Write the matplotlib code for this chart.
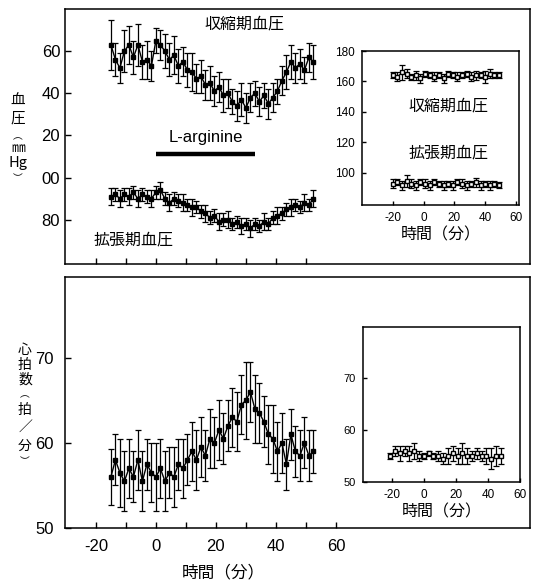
import matplotlib
matplotlib.use("Agg")
import matplotlib.pyplot as plt

plt.rcParams['font.family'] = ['Liberation Sans', 'Noto Sans CJK JP', 'DejaVu Sans']
JP = ['Noto Sans CJK JP', 'DejaVu Sans']

# ---------------- data ----------------
time_main = [-15, -13.5, -12, -10.5, -9, -7.5, -6, -4.5, -3, -1.5, 0, 1.5, 3, 4.5, 6, 7.5,
             9, 10.5, 12, 13.5, 15, 16.5, 18, 19.5, 21, 22.5, 24, 25.5, 27, 28.5, 30, 31.5,
             33, 34.5, 36, 37.5, 39, 40.5, 42, 43.5, 45, 46.5, 48, 49.5, 51, 52.5]
sys_bp = [163, 156, 152, 160, 163, 157, 163, 155, 156, 153, 165, 163, 160, 156, 158, 153,
          155, 151, 150, 147, 148, 144, 145, 141, 143, 139, 140, 136, 134, 137, 133, 138,
          140, 136, 139, 135, 138, 141, 146, 150, 155, 152, 154, 151, 157, 155]
sys_err = [12, 8, 7, 10, 9, 8, 10, 8, 9, 7, 6, 7, 8, 8, 9, 8, 7, 8, 9, 7, 8, 7, 8, 7,
           7, 8, 7, 6, 7, 8, 7, 7, 6, 7, 6, 7, 7, 6, 7, 8, 8, 7, 7, 6, 7, 8]
dia_bp = [91, 92, 90, 92, 91, 93, 90, 92, 91, 90, 93, 94, 90, 88, 90, 89, 88, 87, 86, 86,
          84, 83, 81, 82, 79, 80, 80, 78, 79, 77, 78, 76, 78, 77, 79, 78, 81, 82, 83, 85,
          86, 87, 86, 88, 87, 90]
dia_err = [4, 3, 4, 3, 4, 3, 4, 3, 3, 4, 3, 4, 3, 4, 3, 3, 4, 3, 4, 3, 3, 4, 3, 3, 4, 3,
           4, 3, 3, 4, 3, 4, 3, 3, 4, 3, 3, 4, 3, 3, 4, 3, 3, 4, 3, 4]
hr = [56, 58, 56.5, 55.5, 57, 56, 58, 55.5, 57.5, 56.5, 56, 57, 55.5, 56.5, 56, 57.5, 57,
      58, 59, 58, 59.5, 58.5, 60.5, 60, 61.5, 60.5, 62, 63, 62.5, 64.5, 65, 66, 64, 63.5,
      62.5, 61, 60.5, 59, 60, 57.5, 61, 59, 58.5, 60, 58.5, 59]
hr_err = [3.3, 3, 4, 3.5, 3.5, 3, 3.5, 3.5, 3, 3.5, 4, 3.5, 3.5, 3, 3.5, 3, 3.5, 3, 3.5,
          3.5, 3.5, 3, 3.5, 3, 3.5, 3, 3, 3.5, 3.5, 3.5, 4.5, 3.5, 4, 3.5, 3, 3.5, 4,
          3.5, 3.5, 3, 3, 3, 3, 3, 3, 2.5]

time_inset = [-20, -17, -14, -11, -8, -5, -2, 1, 4, 7, 10, 13, 16, 19, 22, 25, 28, 31, 34,
              37, 40, 43, 46, 49]
sys_ctrl = [164, 163, 166, 165, 163, 164, 162, 165, 164, 163, 164, 162, 165, 164, 163,
            164, 165, 163, 164, 164, 163, 165, 164, 164]
sys_ctrl_err = [2, 3, 5, 3, 2, 3, 3, 2, 2, 3, 2, 3, 2, 2, 3, 2, 2, 3, 3, 2, 4, 3, 2, 2]
dia_ctrl = [93, 94, 92, 95, 93, 92, 94, 93, 92, 94, 93, 92, 93, 92, 94, 93, 92, 93, 94,
            92, 93, 92, 93, 92]
dia_ctrl_err = [3, 2, 3, 4, 3, 3, 2, 3, 3, 2, 2, 3, 2, 3, 2, 3, 3, 2, 3, 3, 2, 3, 2, 2]

time_hr_inset = [-21, -18, -15, -12, -9, -6, -3, 0, 3, 6, 9, 12, 15, 18, 21, 24, 27, 30,
                 33, 36, 39, 42, 45, 48]
hr_ctrl = [55, 56, 55.5, 56, 55.5, 56, 55, 55, 55.5, 55, 55, 54.5, 55, 55.5, 55, 55.5,
           55, 55, 55.5, 55, 55, 54.5, 55, 55]
hr_ctrl_err = [0.5, 1, 1.5, 1, 1.5, 1.5, 1, 0.5, 0.5, 0.5, 1, 1, 1.5, 1.5, 1.5, 2, 1.5,
               1, 1, 1, 1.5, 2, 2, 1.5]

bp_ticks = [80, 100, 120, 140, 160]
bp_ticklabels = ["80", "00", "20", "40", "60"]
inset_bp_ticks = [100, 120, 140, 160, 180]
inset_bp_ticklabels = ["100", "120", "140", "160", "180"]
hr_ticks = [50, 60, 70]
time_ticks_labels = [-20, 0, 20, 40, 60]
arginine_period = [0, 33]

W, H = 534, 585
fig = plt.figure(figsize=(W / 100, H / 100), dpi=100)


def rect(l, t, r, b):
    return [l / W, (H - b) / H, (r - l) / W, (b - t) / H]


def eb(ax, x, y, e, ms=3, lw=1.0, cap=2.2, mfc='black'):
    ax.errorbar(x, y, yerr=e, fmt='-s', color='black', ms=ms, mfc=mfc, mec='black',
                lw=lw, elinewidth=0.9, capsize=cap, capthick=0.9)


# ---------------- top main panel ----------------
ax1 = fig.add_axes(rect(65, 9, 530, 264))
eb(ax1, time_main, sys_bp, sys_err)
eb(ax1, time_main, dia_bp, dia_err)
ax1.plot(arginine_period, [111, 111], color='black', lw=3.2, solid_capstyle='butt')
ax1.set_xlim(-30.3, 124.7)
ax1.set_ylim(59, 180)
ax1.set_yticks(bp_ticks)
ax1.set_yticklabels(bp_ticklabels, fontsize=12)
ax1.set_xticks(list(range(-20, 51, 10)))
ax1.set_xticklabels([])
ax1.tick_params(direction='in', length=4, width=1)
ax1.text(16.5, 111 + 4.5, "L-arginine", fontsize=12, ha='center', va='bottom')
ax1.text(29.5, 173, "収縮期血圧", family=JP, fontsize=11.5, ha='center', va='center')
ax1.text(-7.5, 70.5, "拡張期血圧", family=JP, fontsize=11.5, ha='center', va='center')

# ---------------- top inset ----------------
ax2 = fig.add_axes(rect(362, 51, 519, 205))
eb(ax2, time_inset, sys_ctrl, sys_ctrl_err, ms=2.5, lw=0.8, cap=2, mfc='white')
eb(ax2, time_inset, dia_ctrl, dia_ctrl_err, ms=2.5, lw=0.8, cap=2, mfc='white')
ax2.set_xlim(-40, 62)
ax2.set_ylim(79, 180)
ax2.set_yticks(inset_bp_ticks)
ax2.set_yticklabels(inset_bp_ticklabels, fontsize=8.5)
ax2.set_xticks(time_ticks_labels)
ax2.set_xticklabels([str(v) for v in time_ticks_labels], fontsize=8.5)
ax2.tick_params(direction='in', length=3, width=1, pad=5)
ax2.set_xlabel("時間（分）", family=JP, fontsize=11.5, labelpad=2)
ax2.text(0.55, 0.645, "収縮期血圧", transform=ax2.transAxes, family=JP, fontsize=11.5,
         ha='center', va='center')
ax2.text(0.55, 0.34, "拡張期血圧", transform=ax2.transAxes, family=JP, fontsize=11.5,
         ha='center', va='center')

# ---------------- bottom main panel ----------------
ax3 = fig.add_axes(rect(65, 277, 530, 528))
eb(ax3, time_main, hr, hr_err)
ax3.set_xlim(-30.3, 124.7)
ax3.set_ylim(50, 79.5)
ax3.set_yticks(hr_ticks)
ax3.set_yticklabels([str(v) for v in hr_ticks], fontsize=12)
ax3.set_xticks(list(range(-20, 61, 10)))
ax3.set_xticklabels([str(v) if v in time_ticks_labels else "" for v in range(-20, 61, 10)],
                    fontsize=12)
ax3.tick_params(direction='in', length=4, width=1, pad=8)
ax3.set_xlabel("時間（分）", family=JP, fontsize=12, labelpad=4)
ax3.xaxis.set_label_coords((223 - 65) / 465, -0.145)

# ---------------- bottom inset ----------------
ax4 = fig.add_axes(rect(363, 327, 520, 482))
eb(ax4, time_hr_inset, hr_ctrl, hr_ctrl_err, ms=2.5, lw=0.8, cap=2, mfc='white')
ax4.set_xlim(-38, 60)
ax4.set_ylim(50, 79.8)
ax4.set_yticks(hr_ticks)
ax4.set_yticklabels([str(v) for v in hr_ticks], fontsize=8)
ax4.set_xticks(time_ticks_labels)
ax4.set_xticklabels([str(v) for v in time_ticks_labels], fontsize=8.5)
ax4.tick_params(direction='in', length=3, width=1, pad=5)
ax4.set_xlabel("時間（分）", family=JP, fontsize=11.5, labelpad=2)

for ax in (ax1, ax2, ax3, ax4):
    for s in ax.spines.values():
        s.set_linewidth(1.1)

# ---------------- vertical y labels ----------------
def vlabel(chars, x, ys, sizes):
    for c, y, s in zip(chars, ys, sizes):
        fig.text(x / W, 1 - y / H, c, family=JP, fontsize=s, ha='center', va='center')

vlabel(["血", "圧", "︵", "㎜", "Hg", "︶"], 18, [101, 119, 136, 148, 163, 178],
       [10.5, 10.5, 7, 10, 10.5, 7])
vlabel(["心", "拍", "数", "︵", "拍", "／", "分", "︶"], 25,
       [350, 365, 380, 394, 410, 427, 446, 461],
       [10, 10, 10, 7, 10, 10, 10, 7])

fig.savefig("out.png", dpi=100)
